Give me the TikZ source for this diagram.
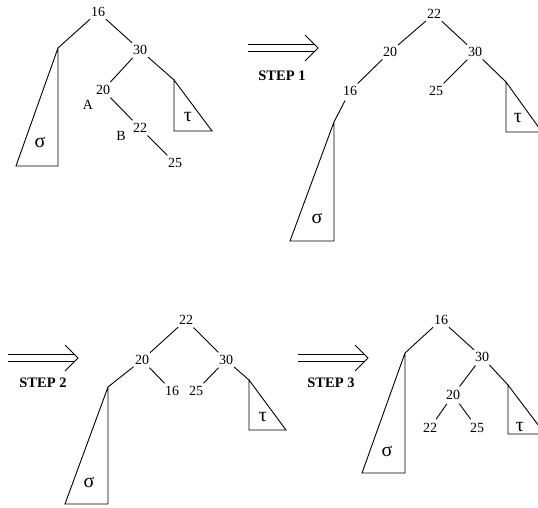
\documentclass[tikz,border=0pt]{standalone}
\usepackage{fontspec}
\setmainfont{Liberation Serif}
\usetikzlibrary{positioning}

\begin{document}
\begin{tikzpicture}[x=1pt,y=-1pt,
        key/.style={circle,inner sep=1.5pt,font=\fontsize{14}{16}\selectfont},
        tag/.style={font=\fontsize{14}{16}\selectfont},
        sub/.style={font=\fontsize{20}{22}\selectfont},
        steplbl/.style={font=\fontsize{14.5}{16}\selectfont\bfseries},
        edge/.style={line width=0.9pt},
        tri/.style={line width=0.9pt},
        twin/.style={double,double distance=5.5pt,line width=0.8pt,shorten >=3pt},
        barb/.style={line width=0.9pt}]
  \useasboundingbox (0,0) rectangle (538,508);
  \clip (0,0) rectangle (538,508);

  % start tree
  \node[key] (a16) at (98,12) {16};
  \node[key] (a30) at (140,50) {30};
  \node[key] (a20) at (103,90) {20};
  \node[key] (a22) at (140,128) {22};
  \node[key] (a25) at (175,163) {25};
  \node[tag] (aA) at (88,105) {A};
  \node[tag] (aB) at (121,136) {B};
  \coordinate (aS) at (58,48);
  \coordinate (aT) at (174,80);
  \draw[edge] (a16) -- (aS) (a16) -- (a30) (a30) -- (a20) (a30) -- (aT)
              (a20) -- (a22) (a22) -- (a25);
  \draw[tri] (aS) -- ++(-42,118) -| (aS);
  \draw[tri] (aT) |- ++(38,51) -- cycle;
  \node[sub] (aSig) at (40,142) {σ};
  \node[sub] (aTau) at (188,117) {τ};

  % step 1
  \coordinate (s1a) at (248,48);
  \coordinate (s1b) at (318,48);
  \draw[twin] (s1a) -- (s1b);
  \draw[barb] (s1b) ++(-13,-13) -- (s1b) -- ++(-13,13);
  \node[steplbl] (s1) at (282,76) {STEP 1};

  % after step 1
  \node[key] (b22) at (434,14) {22};
  \node[key] (b20) at (390,52) {20};
  \node[key] (b30) at (475,52) {30};
  \node[key] (b16) at (350,91) {16};
  \node[key] (b25) at (436,91) {25};
  \coordinate (bS) at (334,122);
  \coordinate (bT) at (506,82);
  \draw[edge] (b22) -- (b20) (b22) -- (b30) (b20) -- (b16) (b16) -- (bS)
              (b30) -- (b25) (b30) -- (bT);
  \draw[tri] (bS) -- ++(-44,119) -| (bS);
  \draw[tri] (bT) |- ++(36,50) -- cycle;
  \node[sub] (bSig) at (317,218) {σ};
  \node[sub] (bTau) at (518,118) {τ};

  % step 2
  \coordinate (s2a) at (8,358);
  \coordinate (s2b) at (78,358);
  \draw[twin] (s2a) -- (s2b);
  \draw[barb] (s2b) ++(-13,-13) -- (s2b) -- ++(-13,13);
  \node[steplbl] (s2) at (43,383) {STEP 2};

  % after step 2
  \node[key] (c22) at (186,320) {22};
  \node[key] (c20) at (142,360) {20};
  \node[key] (c30) at (226,360) {30};
  \node[key] (c16) at (172,391) {16};
  \node[key] (c25) at (196,391) {25};
  \coordinate (cS) at (108,387);
  \coordinate (cT) at (249,380);
  \draw[edge] (c22) -- (c20) (c22) -- (c30) (c20) -- (cS) (c20) -- (c16)
              (c30) -- (c25) (c30) -- (cT);
  \draw[tri] (cS) -- ++(-43,117) -| (cS);
  \draw[tri] (cT) |- ++(37,50) -- cycle;
  \node[sub] (cSig) at (89,482) {σ};
  \node[sub] (cTau) at (263,417) {τ};

  % step 3
  \coordinate (s3a) at (298,358);
  \coordinate (s3b) at (368,358);
  \draw[twin] (s3a) -- (s3b);
  \draw[barb] (s3b) ++(-13,-13) -- (s3b) -- ++(-13,13);
  \node[steplbl] (s3) at (331,383) {STEP 3};

  % after step 3
  \node[key] (d16) at (441,320) {16};
  \node[key] (d30) at (482,357) {30};
  \node[key] (d20) at (453,395) {20};
  \node[key] (d22) at (430,428) {22};
  \node[key] (d25) at (477,428) {25};
  \coordinate (dS) at (405,353);
  \coordinate (dT) at (508,385);
  \draw[edge] (d16) -- (dS) (d16) -- (d30) (d30) -- (d20) (d30) -- (dT)
              (d20) -- (d22) (d20) -- (d25);
  \draw[tri] (dS) -- ++(-43,120) -| (dS);
  \draw[tri] (dT) |- ++(37,49) -- cycle;
  \node[sub] (dSig) at (387,451) {σ};
  \node[sub] (dTau) at (520,427) {τ};
\end{tikzpicture}
\end{document}
